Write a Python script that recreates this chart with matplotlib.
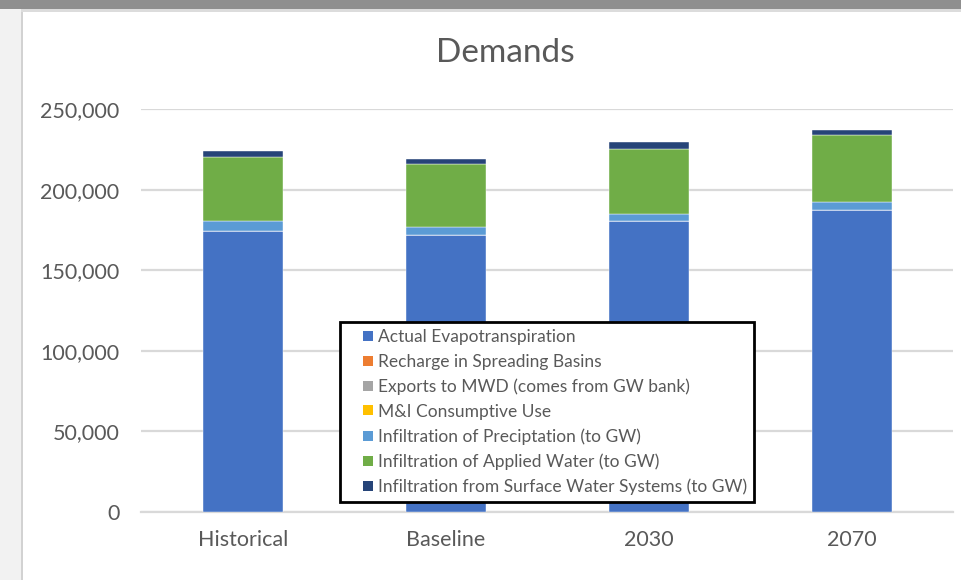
import numpy as np
import matplotlib.pyplot as plt
from matplotlib.patches import Rectangle
from matplotlib.lines import Line2D
from matplotlib.ticker import FuncFormatter

# values (acre-feet), bottom to top of each stack
scenarios = ["Historical", "Baseline", "2030", "2070"]
actual_et = [174300, 172000, 180300, 187300]
recharge_basins = [0, 0, 0, 0]
exports_mwd = [0, 0, 0, 0]
mi_consumptive = [0, 0, 0, 0]
infil_precip = [6000, 4800, 4700, 4800]
infil_applied = [39700, 39000, 40200, 41900]
infil_surface = [4000, 3200, 4100, 2900]

series = [
    ("Actual Evapotranspiration", actual_et, "#4472C4"),
    ("Recharge in Spreading Basins", recharge_basins, "#ED7D31"),
    ("Exports to MWD (comes from GW bank)", exports_mwd, "#A5A5A5"),
    ("M&I Consumptive Use", mi_consumptive, "#FFC000"),
    ("Infiltration of Preciptation (to GW)", infil_precip, "#5B9BD5"),
    ("Infiltration of Applied Water (to GW)", infil_applied, "#70AD47"),
    ("Infiltration from Surface Water Systems (to GW)", infil_surface, "#264478"),
]

plt.rcParams["font.family"] = ["Lato", "DejaVu Sans"]
text_col = "#595959"
grid_col = "#d9d9d9"

W, H = 962, 580
fig = plt.figure(figsize=(W / 100, H / 100), dpi=100)
fig.patch.set_facecolor("white")

# screenshot frame: grey band on top, light strip on the left
fig.patches.append(Rectangle((0, 1 - 9 / H), 1, 9 / H, transform=fig.transFigure,
                             facecolor="#8f8f8f", edgecolor="none", zorder=0))
fig.patches.append(Rectangle((0, 1 - 12 / H), 1, 3 / H, transform=fig.transFigure,
                             facecolor="#dcdcdc", edgecolor="none", zorder=0))
fig.patches.append(Rectangle((0, 0), 21 / W, 1 - 9 / H, transform=fig.transFigure,
                             facecolor="#f2f2f2", edgecolor="none", zorder=0))
fig.patches.append(Rectangle((21 / W, 0), 2 / W, 1 - 12 / H, transform=fig.transFigure,
                             facecolor="#d2d2d2", edgecolor="none", zorder=0))

ax = fig.add_axes([141.5 / W, 1 - 512 / H, 812 / W, 403 / H])
x = np.arange(len(scenarios))
bottom = np.zeros(len(scenarios))
handles = []
for name, vals, col in series:
    vals = np.array(vals, dtype=float)
    ax.bar(x, vals, width=0.395, bottom=bottom, color=col,
           edgecolor="#ffffff", linewidth=0.3, zorder=3)
    bottom += vals
    handles.append(Line2D([], [], linestyle="none", marker="s", markersize=7.2,
                          markerfacecolor=col, markeredgewidth=0, label=name))

ax.set_xlim(-0.5, len(scenarios) - 0.5)
ax.set_ylim(0, 250000)
ax.set_yticks(np.arange(0, 250001, 50000))
ax.yaxis.set_major_formatter(FuncFormatter(lambda v, p: f"{int(v):,}"))
ax.set_xticks(x)
ax.set_xticklabels(scenarios)
ax.grid(axis="y", color=grid_col, linewidth=1.6, zorder=0)
ax.set_axisbelow(True)
for s in ["top", "right", "left"]:
    ax.spines[s].set_visible(False)
ax.spines["bottom"].set_color(grid_col)
ax.spines["bottom"].set_linewidth(1.6)
ax.tick_params(axis="both", length=0, labelsize=15.5, labelcolor=text_col)
ax.tick_params(axis="y", pad=16)
ax.tick_params(axis="x", pad=13)

fig.text(505 / W, 1 - 53 / H, "Demands", ha="center", va="center",
         fontsize=24, color=text_col)

leg = ax.legend(handles=handles, loc="upper left",
                bbox_to_anchor=((340 - 141.5) / 812, (512 - 322) / 403),
                borderaxespad=0, fontsize=12.5, frameon=True, fancybox=False,
                framealpha=1, handlelength=2.4, handletextpad=-0.6,
                labelspacing=0.5, borderpad=0.4, labelcolor=text_col)
leg.get_frame().set_edgecolor("black")
leg.get_frame().set_linewidth(2)
leg.set_zorder(5)

fig.savefig("out.png", dpi=100)
